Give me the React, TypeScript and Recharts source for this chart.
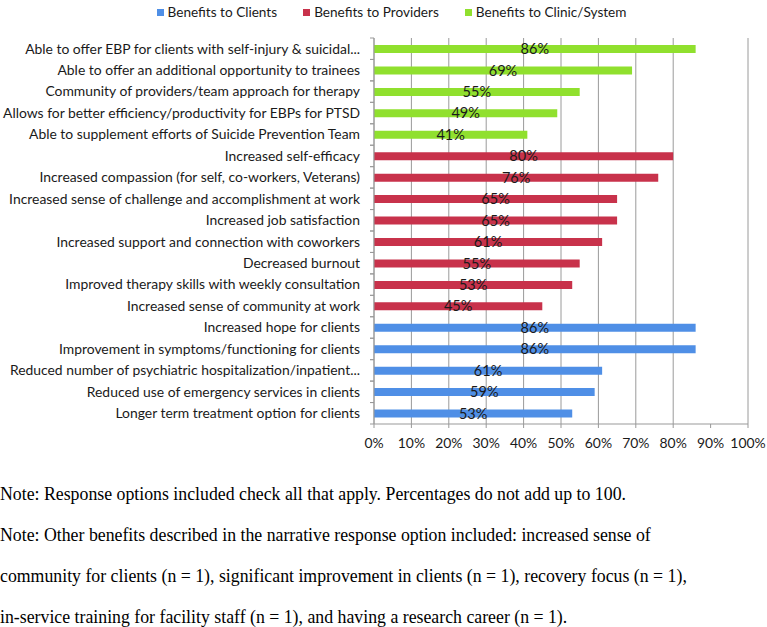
import React from 'react';
import { BarChart, Bar, XAxis, YAxis, CartesianGrid, Cell, LabelList } from 'recharts';

const clinicLabels = [
  'Able to offer EBP for clients with self-injury & suicidal...',
  'Able to offer an additional opportunity to trainees',
  'Community of providers/team approach for therapy',
  'Allows for better efficiency/productivity for EBPs for PTSD',
  'Able to supplement efforts of Suicide Prevention Team',
];
const clinicValues = [86, 69, 55, 49, 41];

const providerLabels = [
  'Increased self-efficacy',
  'Increased compassion (for self, co-workers, Veterans)',
  'Increased sense of challenge and accomplishment at work',
  'Increased job satisfaction',
  'Increased support and connection with coworkers',
  'Decreased burnout',
  'Improved therapy skills with weekly consultation',
  'Increased sense of community at work',
];
const providerValues = [80, 76, 65, 65, 61, 55, 53, 45];

const clientLabels = [
  'Increased hope for clients',
  'Improvement in symptoms/functioning for clients',
  'Reduced number of psychiatric hospitalization/inpatient...',
  'Reduced use of emergency services in clients',
  'Longer term treatment option for clients',
];
const clientValues = [86, 86, 61, 59, 53];

const xTicks = [0, 10, 20, 30, 40, 50, 60, 70, 80, 90, 100];

const series = [
  { name: 'Benefits to Clients', color: '#4f8fe6' },
  { name: 'Benefits to Providers', color: '#c8324b' },
  { name: 'Benefits to Clinic/System', color: '#90e02e' },
];

const notes = [
  'Note: Response options included check all that apply. Percentages do not add up to 100.',
  'Note: Other benefits described in the narrative response option included: increased sense of',
  'community for clients (n = 1), significant improvement in clients (n = 1), recovery focus (n = 1),',
  'in-service training for facility staff (n = 1), and having a research career (n = 1).',
];

const data = [
  ...clinicLabels.map((name, i) => ({ name, value: clinicValues[i], group: 2 })),
  ...providerLabels.map((name, i) => ({ name, value: providerValues[i], group: 1 })),
  ...clientLabels.map((name, i) => ({ name, value: clientValues[i], group: 0 })),
];

const W = 767;
const H = 456;
const MARGIN = { top: 38, right: 19, bottom: 0, left: 0 };
const Y_WIDTH = 374;
const X_HEIGHT = 32;
const BAND = (H - MARGIN.top - MARGIN.bottom - X_HEIGHT) / data.length;
const FONT = 'Lato, "Open Sans", sans-serif';

function CategoryTick(props: any) {
  const { y, payload } = props;
  const ax = MARGIN.left + Y_WIDTH;
  return (
    <g>
      <line x1={ax - 4} x2={ax} y1={y - BAND / 2} y2={y - BAND / 2} stroke="#999" />
      <line x1={ax - 4} x2={ax} y1={y + BAND / 2} y2={y + BAND / 2} stroke="#999" />
      <text x={ax - 14} y={y} dy="0.35em" textAnchor="end" fill="#1a1a1a" fontSize={13.9} fontFamily={FONT}>
        {payload.value}
      </text>
    </g>
  );
}

export default function App() {
  return (
    <div style={{ position: 'absolute', left: 0, top: 0, width: W, height: 627, background: '#fff' }}>
      <div
        style={{
          position: 'absolute',
          top: 4,
          left: 0,
          width: W,
          display: 'flex',
          justifyContent: 'center',
          fontFamily: FONT,
          fontSize: 13.6,
          color: '#1a1a1a',
          paddingLeft: 42,
          boxSizing: 'border-box',
        }}
      >
        {series.map((s) => (
          <div key={s.name} style={{ display: 'flex', alignItems: 'center', marginRight: 26 }}>
            <span style={{ width: 7, height: 7, background: s.color, display: 'inline-block', marginRight: 4 }} />
            <span>{s.name}</span>
          </div>
        ))}
      </div>
      <BarChart width={W} height={H} data={data} layout="vertical" margin={MARGIN}>
        <CartesianGrid horizontal={false} stroke="#9a9a9a" />
        <XAxis
          type="number"
          domain={[0, 100]}
          ticks={xTicks}
          tickFormatter={(v) => `${v}%`}
          height={X_HEIGHT}
          stroke="#999"
          tickSize={4}
          tickMargin={10}
          tick={{ fill: '#1a1a1a', fontSize: 13.9, fontFamily: FONT }}
        />
        <YAxis
          type="category"
          dataKey="name"
          width={Y_WIDTH}
          stroke="#999"
          tickLine={false}
          interval={0}
          tick={<CategoryTick />}
        />
        <Bar dataKey="value" barSize={8} isAnimationActive={false}>
          {data.map((d, i) => (
            <Cell key={i} fill={series[d.group].color} />
          ))}
          <LabelList
            dataKey="value"
            position="center"
            formatter={(v: any) => `${v}%`}
            fill="#1a1a1a"
            fontSize={14.5}
            fontFamily={FONT}
          />
        </Bar>
      </BarChart>
      <div
        style={{
          position: 'absolute',
          left: 0,
          top: 474,
          fontFamily: '"Liberation Serif", "Times New Roman", serif',
          fontSize: 17.8,
          color: '#000',
          whiteSpace: 'nowrap',
        }}
      >
        {notes.map((n, i) => (
          <div key={i} style={{ height: 41, lineHeight: '41px' }}>
            {n}
          </div>
        ))}
      </div>
    </div>
  );
}
